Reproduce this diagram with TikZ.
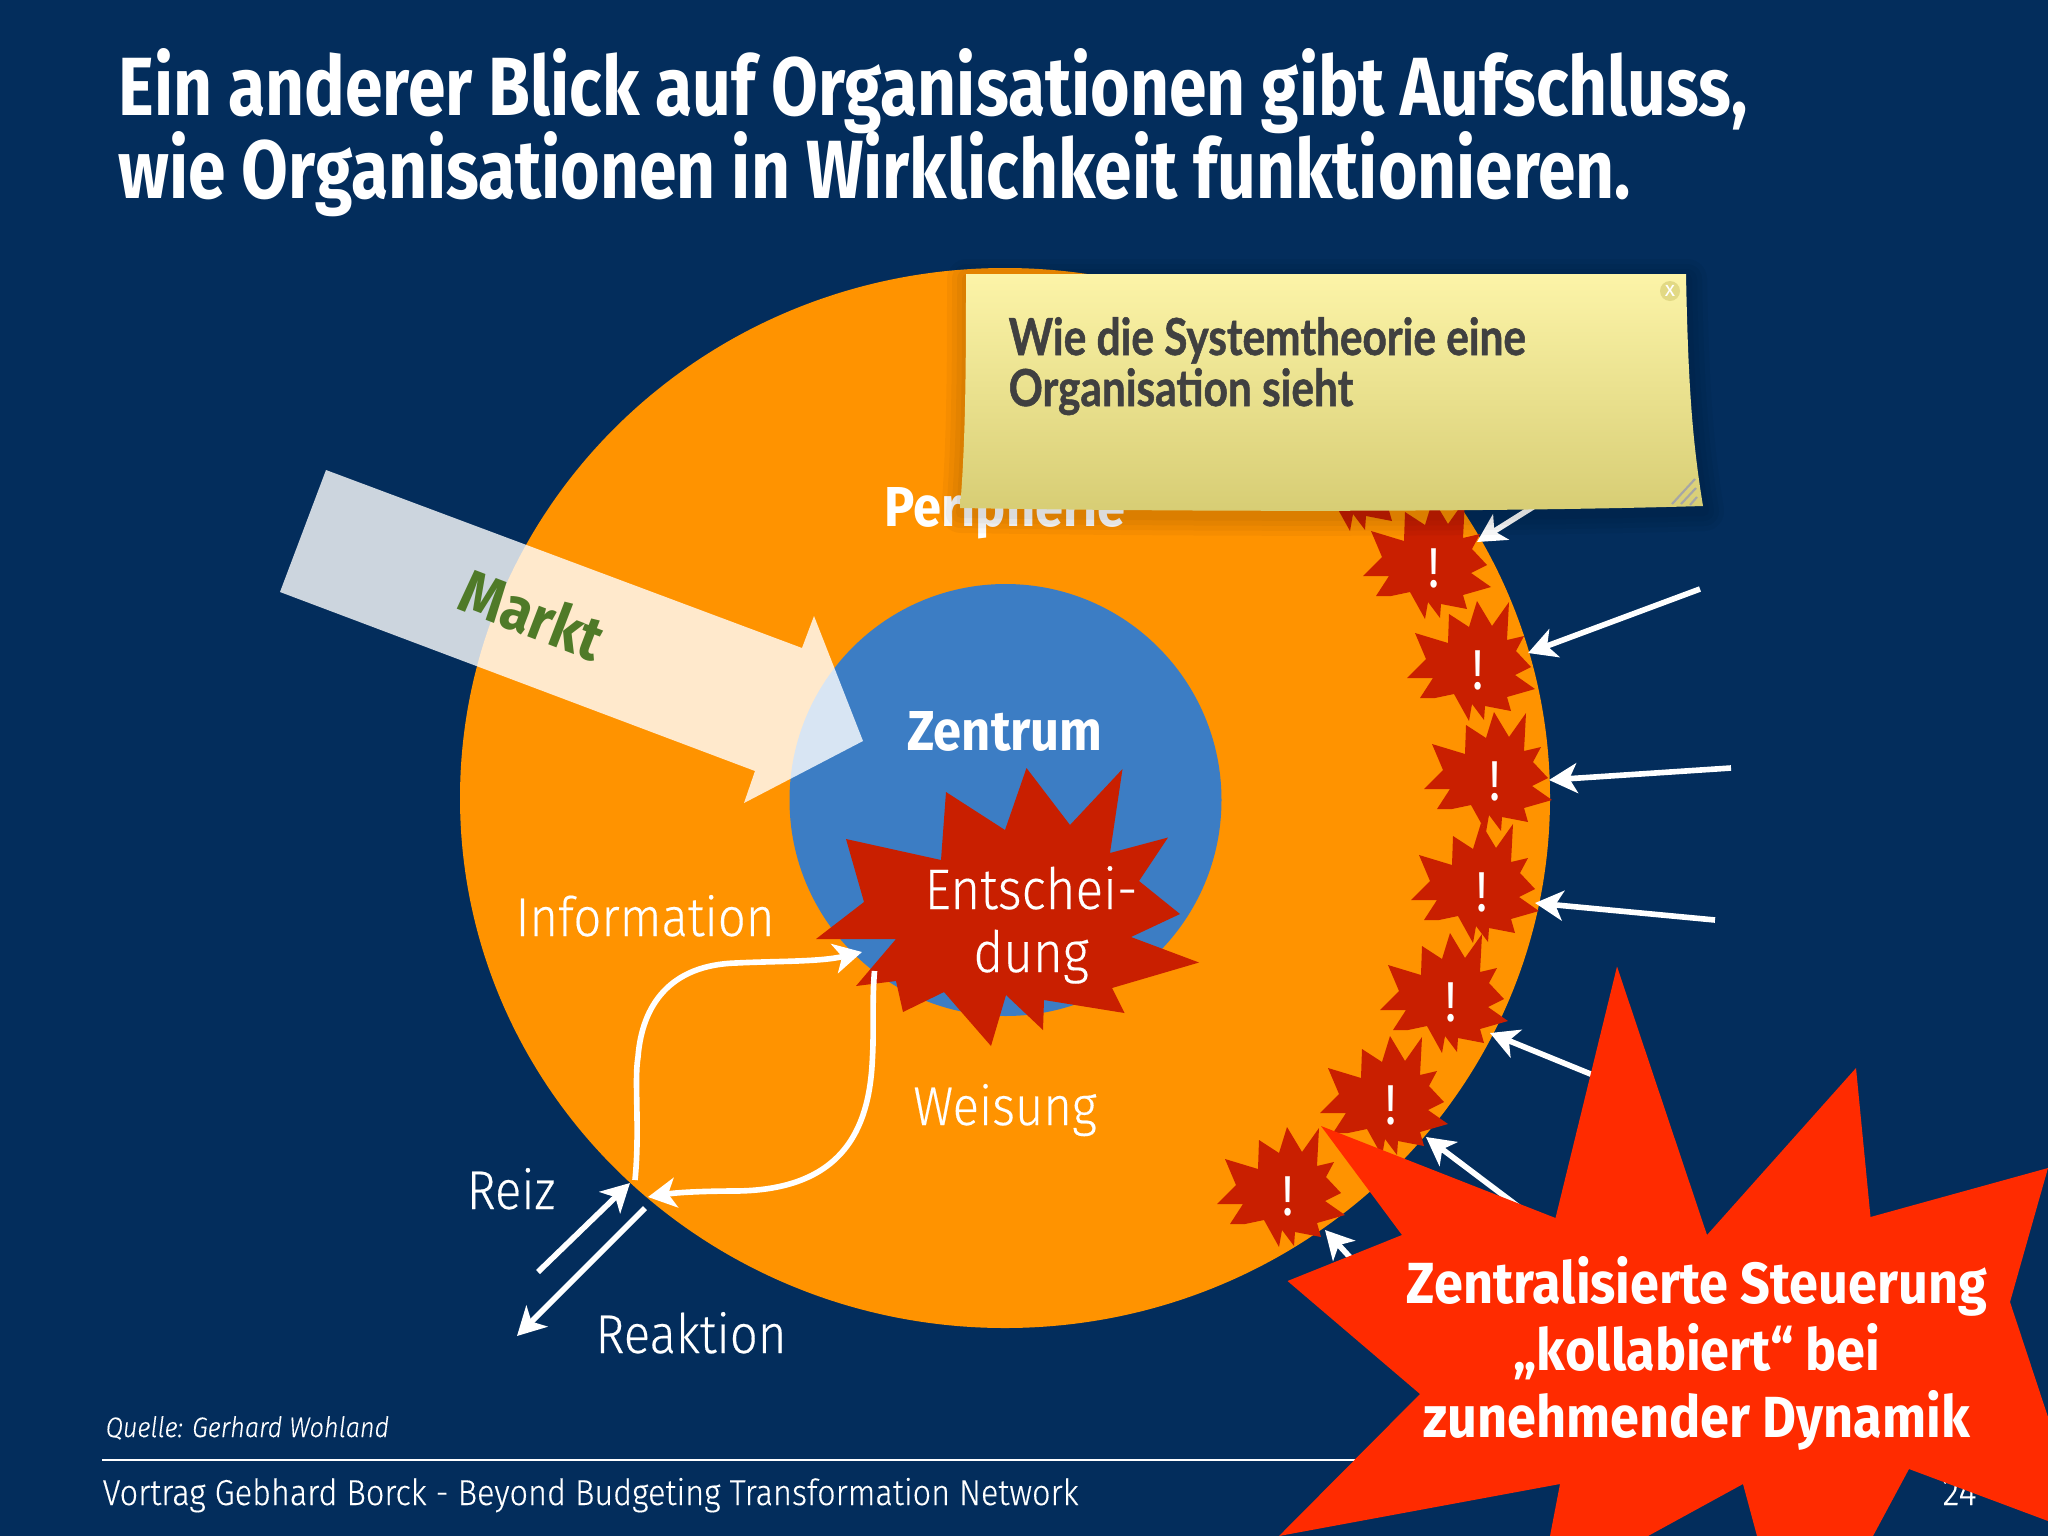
\documentclass[tikz,border=0pt]{standalone}
\usepackage{fontspec}
\setmainfont{Fira Sans}
\newfontfamily\titlefont[FakeStretch=0.82]{Fira Sans}
\newfontfamily\starkfont[FakeStretch=0.9]{Fira Sans}
\newfontfamily\lightfont[FakeStretch=0.9,FakeBold=0.3]{Fira Sans Light}
\newfontfamily\notefont[FakeStretch=0.83,FakeBold=1]{Lato}
\usetikzlibrary{arrows.meta}

\definecolor{navy}{HTML}{032D5C}
\definecolor{orangefill}{HTML}{FF9300}
\definecolor{bluefill}{HTML}{3C7DC4}
\definecolor{darkred}{HTML}{C91F00}
\definecolor{brightred}{HTML}{FF2B00}
\definecolor{marktgreen}{HTML}{4F7A28}
\definecolor{notetop}{HTML}{FCF4A8}
\definecolor{notebottom}{HTML}{D7CD74}

\tikzset{
  pfeil/.style={draw=white, line width=1.6pt, -{Stealth[length=8pt,width=8.5pt,inset=2.2pt]}},
  label/.style={text=white, inner sep=0, anchor=base, font=\lightfont\fontsize{15.5}{17}\selectfont},
  strong/.style={text=white, inner sep=0, anchor=base, font=\starkfont\bfseries\fontsize{16}{18}\selectfont},
  titel/.style={text=white, inner sep=0, anchor=base west, font=\titlefont\bfseries\fontsize{23.5}{26}\selectfont},
  alarm/.style={text=white, inner sep=0, font=\titlefont\fontsize{16}{18}\selectfont},
  fuss/.style={text=white, inner sep=0, anchor=base west, font=\lightfont\fontsize{10.25}{12}\selectfont}
}

% one small star, drawn around the current origin
\def\kleinstern{(-1,-69) -- (14,-44) -- (31,-68) -- (29,-30) -- (46,-34) -- (38,-19) -- (53,-3) -- (37,5) -- (57,19) -- (29,27) -- (33,41) -- (7,36) -- (6,50) -- (-6,34) -- (-9,51) -- (-24,24) -- (-43,28) -- (-58,28) -- (-45,8) -- (-71,8) -- (-52,-11) -- (-63,-37) -- (-30,-27) -- (-29,-56) -- (-9,-43) -- cycle}
\def\notizrand{(966,274) -- (1686,274) .. controls (1688,380) and (1692,440) .. (1703,506) .. controls (1500,512) and (1200,512) .. (960,508) .. controls (966,440) and (966,350) .. (966,274) -- cycle}

\begin{document}
\begin{tikzpicture}[x=0.01cm,y=-0.01cm]

\useasboundingbox (0,0) rectangle (2048,1536);
\clip (0,0) rectangle (2048,1536);
\fill [navy] (0,0) rectangle (2048,1536);

\node [titel] (titel1) at (118,115) {Ein anderer Blick auf Organisationen gibt Aufschluss,};
\node [titel] (titel2) at (118,198) {wie Organisationen in Wirklichkeit funktionieren.};

\fill [orangefill] (1005,798) ellipse [x radius=545, y radius=530];
\fill [bluefill] (1005.5,800) circle [radius=216];

\node [strong] (peripherie) at (1005,526) {Peripherie};
\node [strong] (zentrum) at (1005,750) {Zentrum};

% Markt arrow
\fill [white, opacity=0.8] (326,470) -- (280,592) -- (755,771) -- (744,803) -- (863,741) -- (814,616) -- (802,648) -- cycle;
\node [text=marktgreen, inner sep=0, rotate=-21, font=\starkfont\bfseries\fontsize{17.5}{19}\selectfont] (markt) at (533,614) {Markt};

% decision star
\fill [darkred] (1026.5,768) -- (1070,825) -- (1122.5,769) -- (1110,853) -- (1168,837.5) -- (1139,881) -- (1180,914) -- (1131,937) -- (1199,962.5) -- (1112,988) -- (1124.5,1013) -- (1044,1000) -- (1043,1030) -- (1006,995) -- (991,1046) -- (944,992) -- (903,1012) -- (896,981) -- (856,986) -- (896,939) -- (816,939) -- (864,902) -- (846,839) -- (941,860) -- (946,792) -- (1005,830) -- cycle;
\node [label, font=\lightfont\fontsize{16.2}{18}\selectfont] (entschei) at (1031,909) {Entschei-};
\node [label, font=\lightfont\fontsize{16.2}{18}\selectfont] (dung) at (1031,972) {dung};

\node [label] (information) at (645,936) {Information};
\node [label] (weisung) at (1005,1125) {Weisung};
\node [label] (reiz) at (511,1209) {Reiz};
\node [label] (reaktion) at (691,1353) {Reaktion};

% inner loop
\coordinate (infoA) at (635,1180);
\coordinate (infoB) at (638,1057);
\coordinate (infoC) at (736,963);
\coordinate (infoD) at (862,952);
\coordinate (weisA) at (874.5,971);
\coordinate (weisB) at (872.5,1057);
\coordinate (weisC) at (736,1191);
\coordinate (weisD) at (648,1197);
\draw [pfeil] (infoA) .. controls (640,1130) and (634,1080) .. (infoB) .. controls (642,1005) and (670,965) .. (infoC) .. controls (775,961) and (820,962) .. (infoD);
\draw [pfeil] (weisA) .. controls (872,1000) and (874,1030) .. (weisB) .. controls (870,1120) and (850,1190) .. (weisC) .. controls (710,1191) and (680,1192) .. (weisD);

\coordinate (reizA) at (538,1272);
\coordinate (reizB) at (630,1183);
\coordinate (reakA) at (645,1208);
\coordinate (reakB) at (517,1336);
\draw [pfeil] (reizA) -- (reizB);
\draw [pfeil] (reakA) -- (reakB);

% small stars along the rim
\begin{scope}[shift={(1359,480)}]
\fill [darkred] \kleinstern;
\end{scope}
\foreach \px/\py/\nm in {1434/568/a, 1478/670/b, 1495/781/c, 1482/892/d, 1451/1002/e, 1391/1105/f, 1288/1196/g} {
  \begin{scope}[shift={(\px,\py)}]
  \fill [darkred] \kleinstern;
  \node [alarm] (alarm\nm) at (0,0) {!};
  \end{scope}
}

% arrows from outside
\foreach \nm/\ax/\ay/\bx/\by in {a/1560/490/1477/542, b/1700/589/1528/653, c/1731/768/1549/780, d/1715/920/1535/903, e/1620/1086/1490/1033, f/1560/1238/1426/1137, g/1380/1290/1325/1230} {
  \coordinate (pfeil\nm A) at (\ax,\ay);
  \coordinate (pfeil\nm B) at (\bx,\by);
  \draw [pfeil] (pfeil\nm A) -- (pfeil\nm B);
}

% note
\foreach \w in {40,30,20,10} {
  \draw [black, opacity=0.035, line width=\w*0.01cm, line join=round, shift={(1,5)}] \notizrand;
}
\shade [top color=notetop, bottom color=notebottom] \notizrand;
\node [fill=notebottom!70!notetop, circle, minimum size=20*0.01cm, inner sep=0, text=white, font=\fontsize{6}{6}\selectfont] (schliessen) at (1670,291) {x};
\foreach \ax/\ay/\bx/\by in {1695/479/1672/504, 1696/488/1681/504, 1697/497/1690/505} {
  \draw [gray!70, line width=0.6pt] (\ax,\ay) -- (\bx,\by);
}
\node [anchor=base west, inner sep=0, text=black!75, font=\notefont\bfseries\fontsize{14.5}{16}\selectfont] (notiz1) at (1008,355) {Wie die Systemtheorie eine};
\node [anchor=base west, inner sep=0, text=black!75, font=\notefont\bfseries\fontsize{14.5}{16}\selectfont] (notiz2) at (1008,406) {Organisation sieht};

% footer
\node [fuss, font=\lightfont\itshape\fontsize{8}{10}\selectfont] (quelle) at (105,1437) {Quelle: Gerhard Wohland};
\coordinate (linieA) at (102,1460);
\coordinate (linieB) at (1500,1460);
\draw [white, line width=0.5pt] (linieA) -- (linieB);
\node [fuss] (vortrag) at (102,1505) {Vortrag Gebhard Borck - Beyond Budgeting Transformation Network};
\node [fuss, font=\lightfont\fontsize{11}{12}\selectfont] (seite) at (1942,1505) {24};

% big star
\fill [brightred] (1617,966.5) -- (1707,1235) -- (1856,1068) -- (1870.5,1217) -- (2048,1168) -- (2010,1302) -- (2048,1417) -- (2048,1521) -- (1909,1469) -- (1873,1536) -- (1757,1536) -- (1743,1484) -- (1648,1536) -- (1550,1536) -- (1560,1484) -- (1279,1536) -- (1420,1394) -- (1287.5,1281) -- (1402,1235) -- (1321,1126) -- (1555.5,1218) -- cycle;
\node [strong, font=\starkfont\bfseries\fontsize{16.5}{18}\selectfont] (stern1) at (1697,1303) {Zentralisierte Steuerung};
\node [strong, font=\starkfont\bfseries\fontsize{16.5}{18}\selectfont] (stern2) at (1697,1370) {„kollabiert“ bei};
\node [strong, font=\starkfont\bfseries\fontsize{16.5}{18}\selectfont] (stern3) at (1697,1437) {zunehmender Dynamik};

\end{tikzpicture}
\end{document}
